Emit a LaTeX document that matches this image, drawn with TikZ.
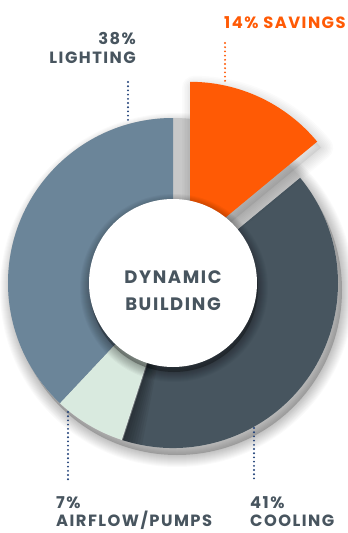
\documentclass[tikz,border=0pt]{standalone}
\usepackage{fontspec}
\setmainfont{Poppins}
\newfontfamily\lbl{Poppins}[LetterSpace=9]
\definecolor{lightingc}{HTML}{6B8599}
\definecolor{airflowc}{HTML}{D9EADF}
\definecolor{coolingc}{HTML}{47555F}
\definecolor{savingsc}{HTML}{FF5A05}
\definecolor{slate}{HTML}{48555F}
\definecolor{navy}{HTML}{1E3F78}
\definecolor{gapgray}{HTML}{C8C8C8}
\tikzset{
  lab/.style={inner sep=0pt, font=\lbl\bfseries\fontsize{16.3}{19}\selectfont, text=slate},
  orangelab/.style={lab, text=savingsc},
  centerlab/.style={inner sep=0pt, font=\lbl\bfseries\fontsize{18}{20}\selectfont, text=slate},
  leader/.style={line width=2.1pt, line cap=round, dash pattern=on 0pt off 4.2pt, draw=navy},
  orangeleader/.style={leader, draw=savingsc}
}
\begin{document}
\begin{tikzpicture}[x=1pt,y=-1pt]
\useasboundingbox (0,0) rectangle (348,533);
\fill[white] (0,0) rectangle (348,533);

\begin{scope}[shift={(173,283)}, yscale=-1]
  % drop shadow of the whole disc
  \begin{scope}[shift={(4,-7)}]
    \foreach \w in {2,4,...,24} \draw[black, draw opacity=0.018, line width=\w pt] (0,0) circle (165);
    \fill[black, opacity=0.2] (0,0) circle (165);
  \end{scope}
  \fill[gapgray] (0,0) circle (165);
  % slices
  \fill[lightingc] (0,0) -- (90:165) arc[start angle=90, end angle=226.8, radius=165] -- cycle;
  \fill[airflowc] (0,0) -- (226.8:165) arc[start angle=226.8, end angle=252, radius=165] -- cycle;
  \fill[coolingc] (0,0) -- (252:165) arc[start angle=252, end angle=399.6, radius=165] -- cycle;
  % bevel at the cooling edge
  \foreach \a in {1,...,8} \fill[black, opacity=0.055] (0,0) -- (252:165) arc[start angle=252, end angle=252+\a*0.9, radius=165] -- cycle;
  \draw[white, opacity=0.3, line width=1.5pt] (0,0) -- (252:165);
  % exploded savings slice
  \begin{scope}[shift={(64.8:40)}]
    \begin{scope}[shift={(4,-6)}]
      \foreach \w in {3,6,...,24} \draw[black, draw opacity=0.016, line width=\w pt, line join=round] (0,0) -- (39.6:165) arc[start angle=39.6, end angle=90, radius=165] -- cycle;
      \fill[black, opacity=0.06] (0,0) -- (39.6:165) arc[start angle=39.6, end angle=90, radius=165] -- cycle;
    \end{scope}
    \fill[savingsc] (0,0) -- (39.6:165) arc[start angle=39.6, end angle=90, radius=165] -- cycle;
  \end{scope}
  % centre disc with shadow
  \begin{scope}[shift={(1,-5)}]
    \foreach \w in {2,4,...,20} \draw[black, draw opacity=0.03, line width=\w pt] (0,0) circle (84);
    \fill[black, opacity=0.3] (0,0) circle (84);
  \end{scope}
  \fill[white] (0,0) circle (84);
\end{scope}

% centre text
\node[centerlab, anchor=base] (dyn) at (173,283) {DYNAMIC};
\node[centerlab, anchor=base] (bld) at (173,310) {BUILDING};

% labels
\node[orangelab, anchor=base west] (sav) at (224,28) {14\% SAVINGS};
\node[lab, anchor=base east] (l38) at (136,44) {38\%};
\node[lab, anchor=base east] (lgt) at (136,63) {LIGHTING};
\node[lab, anchor=base west] (a7) at (56,508) {7\%};
\node[lab, anchor=base west] (afp) at (56,526) {AIRFLOW/PUMPS};
\node[lab, anchor=base west] (c41) at (250,508) {41\%};
\node[lab, anchor=base west] (col) at (250,526) {COOLING};

% leaders
\coordinate (savtop) at (225,43);
\coordinate (savbot) at (225,84);
\coordinate (lgttop) at (128,82);
\coordinate (lgtbot) at (128,123);
\coordinate (afptop) at (68,412);
\coordinate (afpbot) at (68,482);
\coordinate (coltop) at (254,428);
\coordinate (colbot) at (254,482);
\draw[orangeleader] (savtop) -- (savbot);
\draw[leader] (lgttop) -- (lgtbot);
\draw[leader] (afptop) -- (afpbot);
\draw[leader] (coltop) -- (colbot);
\end{tikzpicture}
\end{document}
